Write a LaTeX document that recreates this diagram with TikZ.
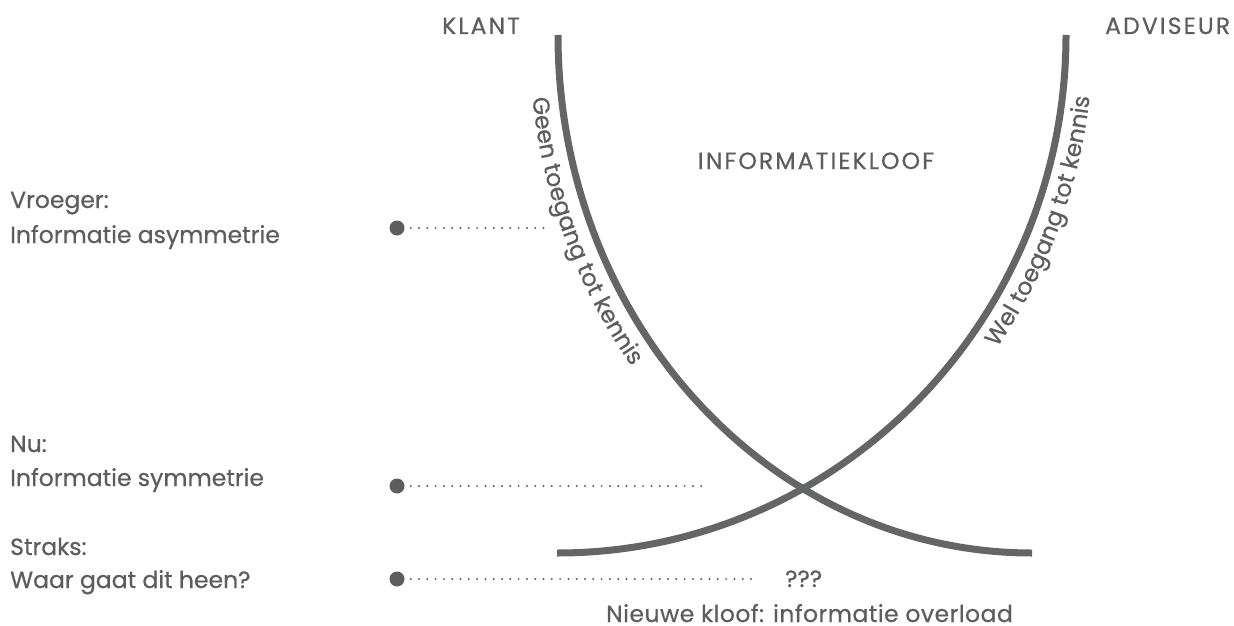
\documentclass[tikz,border=0pt]{standalone}
\usepackage{fontspec}
\setmainfont{Poppins}[FakeBold=0.6]
\usetikzlibrary{decorations.text}
\definecolor{ink}{HTML}{5C5D5F}
\definecolor{curve}{HTML}{646567}
\newcommand{\lblfont}{\fontsize{23.5}{28}\selectfont}
\newcommand{\capsfont}{\fontsize{23.5}{28}\selectfont\addfontfeature{LetterSpace=9}}
\begin{document}
\begin{tikzpicture}[x=1pt,y=-1pt,
  lbl/.style={text=ink,font=\lblfont,inner sep=0pt,anchor=base west},
  caps/.style={text=ink,font=\capsfont,inner sep=0pt,anchor=base west},
  arcline/.style={draw=curve,line width=7pt},
  marker/.style={circle,fill=ink,minimum size=15pt,inner sep=0pt},
  leader/.style={draw=ink,line width=2.2pt,line cap=round,dash pattern=on 0pt off 8.3pt}]
\useasboundingbox (0,0) rectangle (1234,626);

% the two curves
\draw[arcline] (558,35) .. controls (558,321) and (770,553) .. (1032,553);
\draw[arcline] (1066,35) .. controls (1066,321) and (838,553) .. (557,553);

% captions running along the curves
\path[decorate,decoration={text along path,
  text={|\color{ink}\lblfont|Geen toegang tot kennis},
  text align={left, left indent=63pt}}]
  (529,35) .. controls (529,338) and (755,582) .. (1032,582);
\path[decorate,decoration={text along path,
  text={|\color{ink}\lblfont|Wel toegang tot kennis},
  text align={right, right indent=62pt}}]
  (557,581) .. controls (854,581) and (1093,337) .. (1093,35);

% headings
\node[caps] (klant) at (442,34) {KLANT};
\node[caps] (adviseur) at (1105,34) {ADVISEUR};
\node[caps,anchor=base] (kloof) at (816,169) {INFORMATIEKLOOF};

% row labels
\node[lbl] (vroeger) at (10,208) {Vroeger:};
\node[lbl] (asym) at (10,243) {Informatie asymmetrie};
\node[lbl] (nu) at (10,452) {Nu:};
\node[lbl] (sym) at (10,486) {Informatie symmetrie};
\node[lbl] (straks) at (10,555) {Straks:};
\node[lbl] (waar) at (10,588) {Waar gaat dit heen?};

% markers and leaders
\node[marker] (m1) at (397,228) {};
\node[marker] (m2) at (397,486) {};
\node[marker] (m3) at (397,579) {};
\coordinate (e1) at (550,228);
\coordinate (e2) at (705,486);
\coordinate (e3) at (752,579);
\draw[leader] (m1.east) ++(6,0) -- (e1);
\draw[leader] (m2.east) ++(6,0) -- (e2);
\draw[leader] (m3.east) ++(6,0) -- (e3);

\node[lbl] (q) at (785,587) {???};
\node[lbl,font=\lblfont\addfontfeature{LetterSpace=2}] (nieuw) at (606,622) {Nieuwe kloof: informatie overload};
\end{tikzpicture}
\end{document}
